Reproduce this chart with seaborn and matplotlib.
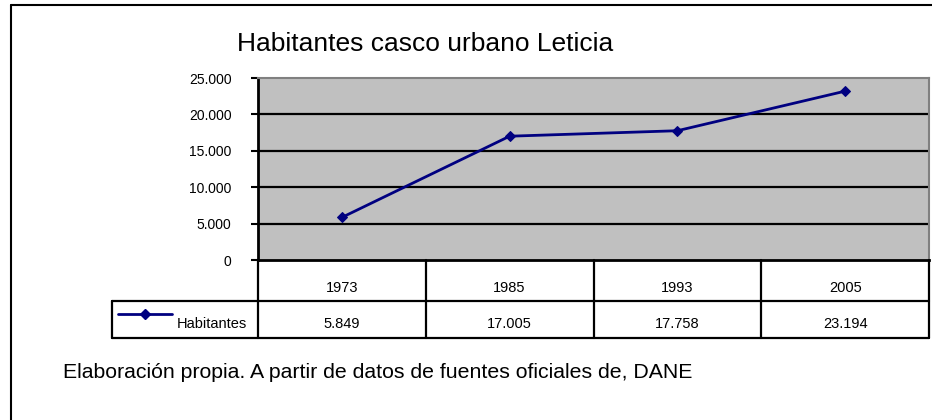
import matplotlib
matplotlib.use("Agg")
import matplotlib.pyplot as plt
import seaborn as sns
import pandas as pd
from matplotlib.lines import Line2D
from matplotlib.ticker import FuncFormatter

years = ["1973", "1985", "1993", "2005"]
habitantes = [5849, 17005, 17758, 23194]
series_name = "Habitantes"
title = "Habitantes casco urbano Leticia"
footer = "Elaboración propia. A partir de datos de fuentes oficiales de, DANE"
yticks = [0, 5000, 10000, 15000, 20000, 25000]

def fmt(v):
    return f"{int(v):,}".replace(",", ".")

sns.set_theme(style="white")
plt.rcParams['font.family'] = ['Liberation Sans', 'DejaVu Sans']
plt.rcParams['text.color'] = 'black'
plt.rcParams['ytick.color'] = 'black'
plt.rcParams['ytick.labelcolor'] = 'black'

W, H = 932, 420
fig = plt.figure(figsize=(W/100, H/100), dpi=100)

def fx(px):
    return px / W
def fy(py):
    return 1 - py / H

left, right, top, bottom = 258, 929, 78, 260
ax = fig.add_axes([fx(left), fy(bottom), fx(right) - fx(left), fy(top) - fy(bottom)])
ax.set_facecolor("#c0c0c0")

df = pd.DataFrame({"pos": range(len(years)), "val": habitantes})
sns.lineplot(data=df, x="pos", y="val", ax=ax, color="#000080", lw=2,
             marker="D", markersize=5, markeredgecolor="#000080", zorder=3)
ax.set_xlim(-0.5, len(years) - 0.5)
ax.set_ylim(0, 25000)
ax.set_yticks(yticks)
ax.yaxis.set_major_formatter(FuncFormatter(lambda v, p: fmt(v)))
ax.set_xticks([])
ax.set_xlabel("")
ax.set_ylabel("")
for y in yticks[1:-1]:
    ax.axhline(y, color="black", lw=1.6, zorder=1)
ax.tick_params(axis="y", direction="out", length=5, width=1.5, color="black",
               labelsize=10, pad=14, left=True, labelcolor="black")
for s in ["top", "right"]:
    ax.spines[s].set_color("#808080")
    ax.spines[s].set_linewidth(1.5)
for s in ["left", "bottom"]:
    ax.spines[s].set_color("black")
    ax.spines[s].set_linewidth(2)

# Title
fig.text(fx(425.5), fy(51), title, ha="center", va="baseline", fontsize=19, color="black")

# Data table
row1_top, row1_bot, row2_bot = 260, 301, 338
legend_left = 112
colw = (right - left) / len(years)
lw_t = 1.6
def hline(x0, x1, y):
    fig.add_artist(Line2D([fx(x0), fx(x1)], [fy(y), fy(y)], color="black", lw=lw_t))
def vline(x, y0, y1):
    fig.add_artist(Line2D([fx(x), fx(x)], [fy(y0), fy(y1)], color="black", lw=lw_t))

hline(left, right, row1_bot)
hline(legend_left, left, row1_bot)
hline(legend_left, right, row2_bot)
vline(legend_left, row1_bot, row2_bot)
vline(left, row1_top, row2_bot)
for i in range(1, len(years) + 1):
    vline(left + i * colw, row1_top, row2_bot)
for i, (yr, v) in enumerate(zip(years, habitantes)):
    cx = left + (i + 0.5) * colw
    fig.text(fx(cx), fy(292), yr, ha="center", va="baseline", fontsize=10.5, color="black")
    fig.text(fx(cx), fy(328), fmt(v), ha="center", va="baseline", fontsize=10.5, color="black")

# Legend key in table
ly = 314
fig.add_artist(Line2D([fx(118), fx(172)], [fy(ly), fy(ly)], color="#000080", lw=2))
fig.add_artist(Line2D([fx(145)], [fy(ly)], color="#000080", marker="D", markersize=5))
fig.text(fx(177), fy(328), series_name, ha="left", va="baseline", fontsize=10.5, color="black")

# Footer
fig.text(fx(63), fy(378), footer, ha="left", va="baseline", fontsize=15.3, color="black")

# Outer border (top and left visible)
fig.add_artist(Line2D([fx(11), fx(932)], [fy(5), fy(5)], color="black", lw=1.5))
fig.add_artist(Line2D([fx(11), fx(11)], [fy(5), fy(420)], color="black", lw=1.5))

fig.savefig("out.png", dpi=100)
